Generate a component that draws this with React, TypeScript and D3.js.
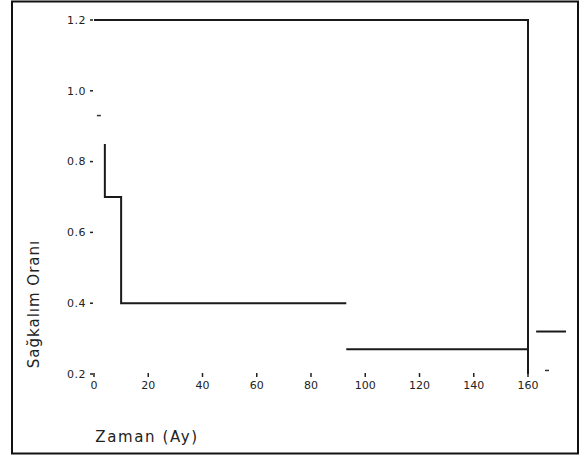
import React from "react";
import * as d3 from "d3";

// survival steps
const topTimes = [0, 160, 160];
const topSurv = [1.2, 1.2, 0.2];

const stepTimes = [4, 4, 10, 10, 93];
const stepSurv = [0.85, 0.7, 0.7, 0.4, 0.4];

const lowTimes = [93, 160];
const lowSurv = [0.27, 0.27];

const sideTimes = [163, 174];
const sideSurv = [0.32, 0.32];

const censorTimes = [1.8, 167];
const censorSurv = [0.93, 0.21];

const xTicks = [0, 20, 40, 60, 80, 100, 120, 140, 160];
const yTicks = [0.2, 0.4, 0.6, 0.8, 1.0, 1.2];

const width = 582;
const height = 457;

export default function App() {
  const x = d3.scaleLinear().domain([0, 160]).range([94, 528]);
  const y = d3.scaleLinear().domain([0.2, 1.2]).range([374, 20]);

  const line = d3
    .line<[number, number]>()
    .x(d => x(d[0]))
    .y(d => y(d[1]));

  const pts = (t: number[], s: number[]) =>
    t.map((v, i) => [v, s[i]] as [number, number]);

  const series = [
    pts(topTimes, topSurv),
    pts(stepTimes, stepSurv),
    pts(lowTimes, lowSurv),
    pts(sideTimes, sideSurv)
  ];

  const font = "DejaVu Sans, sans-serif";

  return (
    <svg
      width={width}
      height={height}
      style={{ position: "absolute", left: 0, top: 0, background: "#fff" }}
    >
      <rect x={12} y={1.5} width={566} height={452} fill="none" stroke="#111" strokeWidth={2} />

      {yTicks.map(t => (
        <g key={"y" + t}>
          <line x1={90} x2={93} y1={y(t)} y2={y(t)} stroke="#222" strokeWidth={1.5} />
          <text
            x={86}
            y={y(t)}
            dy="0.35em"
            textAnchor="end"
            fontSize={11}
            letterSpacing={0.5}
            fontFamily={font}
            fill="#222"
          >
            {d3.format(".1f")(t)}
          </text>
        </g>
      ))}

      {xTicks.map(t => (
        <g key={"x" + t}>
          <line x1={x(t)} x2={x(t)} y1={373} y2={377} stroke="#222" strokeWidth={1.5} />
          <text
            x={x(t)}
            y={389}
            textAnchor="middle"
            fontSize={11}
            fontFamily={font}
            fill="#222"
          >
            {t}
          </text>
        </g>
      ))}

      {series.map((s, i) => (
        <path key={i} d={line(s) || ""} fill="none" stroke="#1a1a1a" strokeWidth={2} />
      ))}

      {censorTimes.map((t, i) => (
        <line
          key={"c" + i}
          x1={x(t) - 2}
          x2={x(t) + 2}
          y1={y(censorSurv[i])}
          y2={y(censorSurv[i])}
          stroke="#333"
          strokeWidth={1.5}
        />
      ))}

      <text
        transform={`translate(39, 304) rotate(-90)`}
        textAnchor="middle"
        fontSize={15}
        letterSpacing={1}
        fontFamily={font}
        fill="#222"
      >
        Sağkalım Oranı
      </text>
      <text
        x={147}
        y={442}
        textAnchor="middle"
        fontSize={15}
        letterSpacing={1.6}
        fontFamily={font}
        fill="#222"
      >
        Zaman (Ay)
      </text>
    </svg>
  );
}
